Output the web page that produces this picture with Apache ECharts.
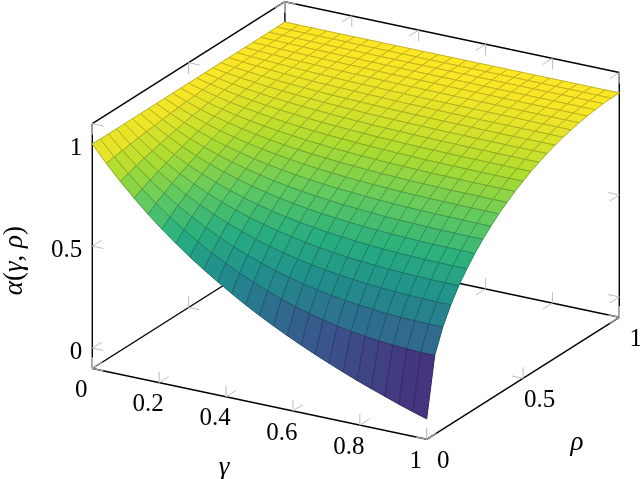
<!doctype html>
<html><head><meta charset="utf-8">
<style>html,body{margin:0;padding:0;background:#fff}#c{width:640px;height:479px}</style>
<script src="https://cdn.jsdelivr.net/npm/echarts@6/dist/echarts.min.js"></script></head>
<body><div id="c"></div>
<script>
const gammaSamples = 24;
const rhoSamples = 24;
// alpha[rhoIndex][gammaIndex]
const alpha = [
[1,.920,.846,.778,.714,.655,.600,.548,.500,.455,.412,.371,.333,.297,.263,.231,.200,.171,.143,.116,.091,.067,.043,.021,0],
[1,.927,.860,.798,.742,.690,.642,.598,.558,.521,.487,.456,.429,.403,.381,.361,.344,.329,.317,.307,.299,.293,.289,.286,.286],
[1,.933,.873,.817,.767,.721,.680,.642,.608,.577,.550,.525,.503,.484,.467,.452,.440,.429,.421,.414,.408,.404,.402,.400,.400],
[1,.939,.885,.835,.791,.750,.714,.682,.653,.627,.603,.583,.565,.550,.536,.525,.515,.507,.500,.495,.491,.488,.486,.484,.484],
[1,.945,.896,.852,.812,.777,.745,.717,.692,.670,.651,.634,.619,.606,.595,.585,.577,.571,.565,.561,.558,.556,.554,.553,.553],
[1,.951,.907,.867,.832,.801,.774,.749,.728,.709,.692,.678,.666,.655,.645,.638,.631,.626,.621,.618,.615,.613,.612,.611,.611],
[1,.956,.917,.882,.851,.824,.800,.779,.760,.744,.730,.718,.707,.698,.690,.684,.678,.674,.670,.667,.665,.663,.662,.662,.661],
[1,.961,.926,.895,.868,.845,.824,.806,.790,.776,.764,.753,.744,.737,.730,.725,.720,.716,.713,.711,.709,.707,.707,.706,.706],
[1,.965,.935,.908,.884,.864,.846,.830,.816,.805,.794,.785,.778,.771,.766,.761,.757,.754,.751,.749,.748,.747,.746,.745,.745],
[1,.970,.943,.920,.899,.882,.866,.853,.841,.831,.822,.814,.808,.802,.798,.794,.791,.788,.786,.784,.783,.782,.781,.781,.781],
[1,.974,.950,.930,.913,.898,.884,.873,.863,.854,.847,.841,.835,.831,.827,.823,.821,.818,.816,.815,.814,.813,.813,.812,.812],
[1,.977,.957,.940,.925,.912,.901,.892,.883,.876,.870,.864,.860,.856,.853,.850,.848,.846,.844,.843,.842,.841,.841,.841,.841],
[1,.981,.964,.949,.937,.926,.917,.908,.901,.895,.890,.886,.882,.879,.876,.874,.872,.870,.869,.868,.867,.867,.866,.866,.866],
[1,.984,.970,.958,.947,.938,.930,.924,.918,.913,.909,.905,.902,.899,.897,.895,.893,.892,.891,.890,.890,.889,.889,.889,.889],
[1,.987,.975,.965,.957,.949,.943,.937,.933,.929,.925,.922,.920,.917,.916,.914,.913,.912,.911,.910,.910,.909,.909,.909,.909],
[1,.989,.980,.972,.965,.959,.954,.950,.946,.943,.940,.937,.935,.934,.932,.931,.930,.929,.929,.928,.928,.927,.927,.927,.927],
[1,.991,.984,.978,.972,.968,.964,.960,.957,.955,.953,.951,.949,.948,.947,.946,.945,.945,.944,.944,.943,.943,.943,.943,.943],
[1,.993,.988,.983,.979,.975,.972,.970,.968,.966,.964,.963,.961,.960,.960,.959,.958,.958,.957,.957,.957,.957,.957,.957,.957],
[1,.995,.991,.988,.985,.982,.980,.978,.976,.975,.974,.973,.972,.971,.970,.970,.970,.969,.969,.969,.969,.968,.968,.968,.968],
[1,.997,.994,.991,.989,.988,.986,.985,.984,.983,.982,.981,.981,.980,.980,.979,.979,.979,.979,.978,.978,.978,.978,.978,.978],
[1,.998,.996,.994,.993,.992,.991,.990,.990,.989,.988,.988,.988,.988,.987,.987,.987,.987,.986,.986,.986,.986,.986,.986,.986],
[1,.999,.998,.997,.996,.996,.995,.995,.994,.994,.993,.993,.993,.993,.993,.993,.992,.992,.992,.992,.992,.992,.992,.992,.992],
[1,.999,.999,.999,.998,.998,.998,.998,.997,.997,.997,.997,.997,.997,.997,.997,.997,.997,.997,.997,.997,.997,.997,.997,.997],
[1,1,1,1,1,1,.999,.999,.999,.999,.999,.999,.999,.999,.999,.999,.999,.999,.999,.999,.999,.999,.999,.999,.999],
[1,1,1,1,1,1,1,1,1,1,1,1,1,1,1,1,1,1,1,1,1,1,1,1,1]
];
const gammaTicks = [0,0.2,0.4,0.6,0.8,1];
const gammaTickLabels = ['0','0.2','0.4','0.6','0.8','1'];
const rhoTicks = [0,0.5,1];
const rhoTickLabels = ['0','0.5','1'];
const zTicks = [0,0.5,1];
const zTickLabels = ['0','0.5','1'];
const zMin = -0.1, zMax = 1.1;
const viridis = ['#440154','#472d7b','#3b528b','#2c728e','#21918c','#28ae80','#5ec962','#addc30','#fde725'];

// orthographic view of the unit box, in page pixels
const view = {ox:92.3, oy:368.5, gx:334.4, gy:70.8, rx:192.6, ry:-122, zy:-204};
function project(g,r,z){
  return [view.ox+g*view.gx+r*view.rx, view.oy+g*view.gy+r*view.ry+(z-zMin)*view.zy];
}
const tg=0.033, tr=0.05, tz=0.054;

const frameLines = [
  [0,0,zMin,1,0,zMin],[1,0,zMin,1,1,zMin],[1,1,zMin,0,1,zMin],[0,1,zMin,0,0,zMin],
  [0,0,zMin,0,0,zMax],[1,1,zMin,1,1,zMax],[0,1,zMin,0,1,zMax],
  [0,0,zMax,0,1,zMax],[0,1,zMax,1,1,zMax]
];
const tickLines = [];
function tick(g,r,z,dg,dr,dz){ tickLines.push([g,r,z,g+dg,r+dr,z+dz]); }
gammaTicks.forEach(g=>{
  tick(g,1,zMax,0,0,-tz); tick(g,1,zMax,0,-tr,0);
  tick(g,1,zMin,0,0,tz);  tick(g,1,zMin,0,-tr,0);
  tick(g,0,zMin,0,0,tz);  tick(g,0,zMin,0,tr,0);
});
rhoTicks.forEach(r=>{
  tick(0,r,zMax,0,0,-tz); tick(0,r,zMax,tg,0,0);
  tick(0,r,zMin,0,0,tz);  tick(0,r,zMin,tg,0,0);
  tick(1,r,zMin,0,0,tz);  tick(1,r,zMin,-tg,0,0);
});
zTicks.forEach(z=>{
  tick(0,0,z,tg,0,0);  tick(0,0,z,0,tr,0);
  tick(1,1,z,-tg,0,0); tick(1,1,z,0,-tr,0);
  tick(0,1,z,tg,0,0);  tick(0,1,z,0,-tr,0);
});

// cells painted far to near
const cells = [];
for(let j=rhoSamples-1;j>=0;j--) for(let i=0;i<gammaSamples;i++) cells.push([i,j]);

function segmentSeries(data,color,width){
  return {type:'custom',coordinateSystem:'cartesian2d',silent:true,animation:false,progressive:0,
    data:data,
    renderItem(p,api){
      const d=data[p.dataIndex];
      const a=api.coord(project(d[0],d[1],d[2])), b=api.coord(project(d[3],d[4],d[5]));
      return {type:'line',shape:{x1:a[0],y1:a[1],x2:b[0],y2:b[1]},style:{stroke:color,lineWidth:width,fill:null}};
    }};
}

const serif = '"Liberation Serif",serif';
const labels = [];
gammaTicks.forEach((g,k)=>labels.push({t:gammaTickLabels[k],p:[g,0,zMin],dx:-11,dy:22,a:'center',s:25}));
rhoTicks.forEach((r,k)=>labels.push({t:rhoTickLabels[k],p:[1,r,zMin],dx:16.5,dy:22,a:'center',s:25}));
zTicks.forEach((z,k)=>labels.push({t:zTickLabels[k],p:[0,0,z],dx:-10,dy:4.5,a:'right',s:25}));
labels.push({t:'{i|γ}',p:[0.5,0,zMin],dx:-35.5,dy:64,a:'center',s:27});
labels.push({t:'{i|ρ}',p:[1,0.5,zMin],dx:54,dy:64.7,a:'center',s:27});
labels.push({t:'{i|α}({i|γ}, {i|ρ})',p:[0,0,0.5],dx:-77,dy:14.5,a:'center',s:27,rot:Math.PI/2});

const chart = echarts.init(document.getElementById('c'),null,{renderer:'canvas'});
chart.setOption({
  animation:false,
  backgroundColor:'#fff',
  grid:{left:0,right:0,top:0,bottom:0},
  xAxis:{type:'value',min:0,max:640,show:false},
  yAxis:{type:'value',min:0,max:479,inverse:true,show:false},
  tooltip:{show:false},
  series:[
    segmentSeries(frameLines,'#000',1.4),
    segmentSeries(tickLines,'#bdbdbd',1),
    {type:'custom',coordinateSystem:'cartesian2d',silent:true,animation:false,progressive:0,
      data:cells,
      renderItem(p,api){
        const [i,j]=cells[p.dataIndex];
        const corners=[[i,j],[i+1,j],[i+1,j+1],[i,j+1]];
        let sum=0;
        const pts=corners.map(([a,b])=>{
          const z=alpha[b][a]; sum+=z;
          return api.coord(project(a/gammaSamples,b/rhoSamples,z));
        });
        const fill=echarts.color.lerp(sum/4,viridis);
        const edge=echarts.color.lerp(0.22,[fill,'#000000']);
        return {type:'polygon',shape:{points:pts},style:{fill:fill,stroke:edge,lineWidth:1}};
      }},
    {type:'custom',coordinateSystem:'cartesian2d',silent:true,animation:false,progressive:0,
      data:labels.map((l,k)=>k),
      renderItem(p,api){
        const l=labels[p.dataIndex];
        const c=api.coord(project(l.p[0],l.p[1],l.p[2]));
        return {type:'text',x:c[0]+l.dx,y:c[1]+l.dy,rotation:l.rot||0,
          style:{text:l.t,fill:'#000',font:l.s+'px '+serif,align:l.a,verticalAlign:'middle',
            rich:{i:{fontStyle:'italic',fontFamily:'"Liberation Serif",serif',fontSize:l.s}}}};
      }}
  ]
});
</script></body></html>
